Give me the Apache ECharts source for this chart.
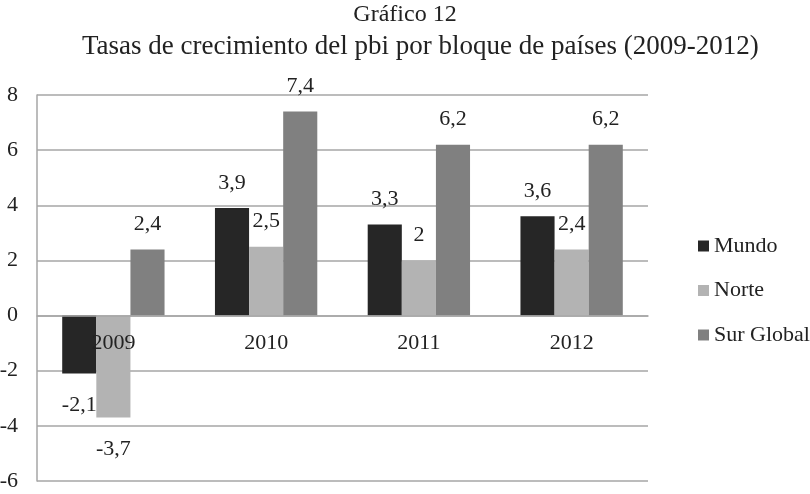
<!DOCTYPE html>
<html>
<head>
<meta charset="utf-8">
<script src="https://cdn.jsdelivr.net/npm/echarts@6/dist/echarts.min.js"></script>
<style>
  html, body { margin: 0; padding: 0; background: #fff; }
  #chart { width: 810px; height: 494px; }
</style>
</head>
<body>
<div id="chart"></div>
<script>
const years = ['2009', '2010', '2011', '2012']
const mundo = [-2.1, 3.9, 3.3, 3.6]
const norte = [-3.7, 2.5, 2.0, 2.4]
const surGlobal = [2.4, 7.4, 6.2, 6.2]
const yTicks = [-6, 8, 2] // min, max, interval

const FONT = '"Liberation Serif", "Times New Roman", serif'
const GRID_TOP = 95
const GRID_BOTTOM = 13
const plotH = 494 - GRID_TOP - GRID_BOTTOM
// distancia del eje x (en cero) al borde inferior del grid
const zeroOffset = plotH * (0 - yTicks[0]) / (yTicks[1] - yTicks[0])

// etiqueta arriba si es positivo, abajo si es negativo
function withLabels(values) {
  return values.map(function (v) {
    return {
      value: v,
      label: v < 0 ? { position: 'bottom', distance: 21 } : { position: 'top', distance: 14 }
    }
  })
}

function barSeries(name, values, color) {
  return {
    name: name,
    type: 'bar',
    data: withLabels(values),
    barGap: '0%',
    barCategoryGap: '33%',
    itemStyle: { color: color },
    label: {
      show: true,
      fontFamily: FONT,
      fontSize: 22,
      color: '#222',
      formatter: function (p) { return String(p.value).replace('.', ',') }
    }
  }
}

const option = {
  animation: false,
  backgroundColor: '#fff',
  title: [
    {
      text: 'Gráfico 12',
      left: 'center',
      top: -2,
      textStyle: { fontFamily: FONT, fontSize: 24, fontWeight: 'normal', color: '#222' }
    },
    {
      text: 'Tasas de crecimiento del pbi por bloque de países (2009-2012)',
      left: 77,
      top: 28,
      textStyle: { fontFamily: FONT, fontSize: 27, fontWeight: 'normal', color: '#222' }
    }
  ],
  legend: {
    orient: 'vertical',
    left: 693,
    top: 230,
    itemWidth: 11,
    itemHeight: 11,
    itemGap: 22.5,
    icon: 'rect',
    textStyle: { fontFamily: FONT, fontSize: 22, color: '#222' },
    data: ['Mundo', 'Norte', 'Sur Global']
  },
  grid: { left: 37, right: 162, top: GRID_TOP, bottom: GRID_BOTTOM, outerBoundsMode: 'none', containLabel: false },
  xAxis: {
    type: 'category',
    data: years,
    position: 'bottom',
    offset: -zeroOffset,
    z: 5,
    axisLine: { onZero: false, lineStyle: { color: '#a6a6a6', width: 1.5 } },
    axisTick: { show: false },
    axisLabel: { fontFamily: FONT, fontSize: 22, color: '#222', margin: 17 }
  },
  yAxis: {
    type: 'value',
    min: yTicks[0],
    max: yTicks[1],
    interval: yTicks[2],
    axisLine: { show: true, lineStyle: { color: '#a6a6a6', width: 1.5 } },
    axisTick: { show: false },
    axisLabel: { fontFamily: FONT, fontSize: 22, color: '#222', margin: 19 },
    splitLine: { lineStyle: { color: '#a6a6a6', width: 1.5 } }
  },
  series: [
    barSeries('Mundo', mundo, '#262626'),
    barSeries('Norte', norte, '#b3b3b3'),
    barSeries('Sur Global', surGlobal, '#808080')
  ]
}

const myChart = echarts.init(document.getElementById('chart'), null, { renderer: 'canvas' })
myChart.setOption(option)
</script>
</body>
</html>
